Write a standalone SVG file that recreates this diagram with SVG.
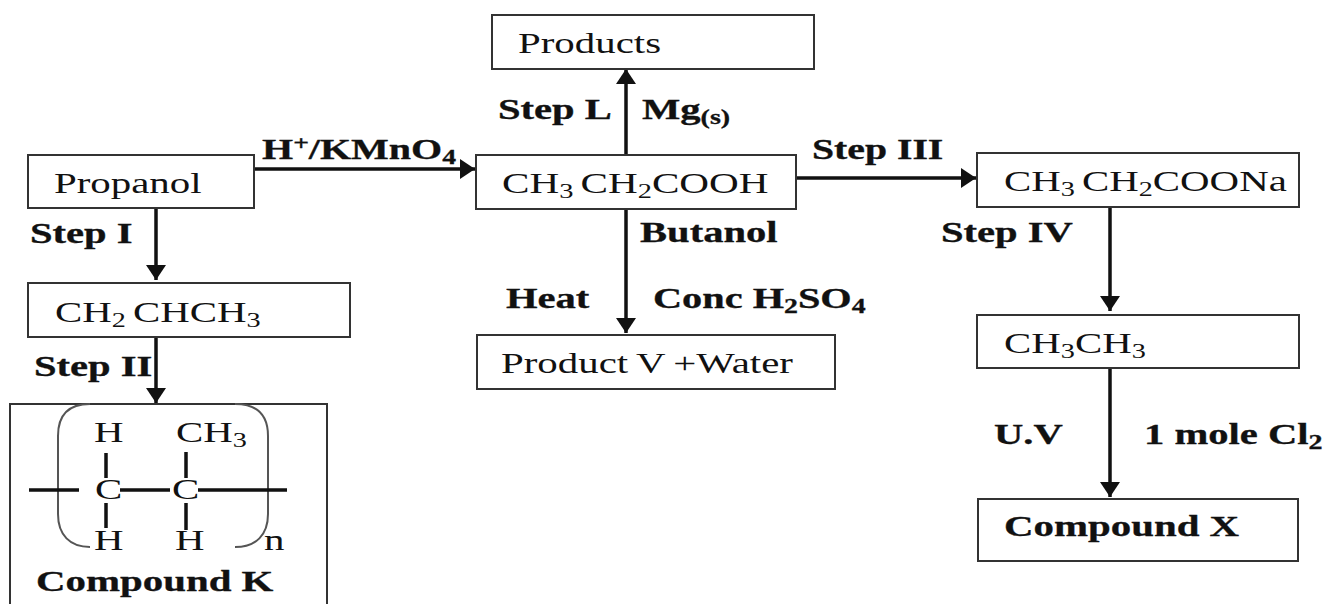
<svg xmlns="http://www.w3.org/2000/svg" width="1333" height="604" viewBox="0 0 1333 604">
<style>
text{font-family:"Liberation Serif",serif;font-size:29px;fill:#111}
.b{font-weight:bold;stroke:#111;stroke-width:.3}
.s{font-size:20px}
rect{fill:#fff;stroke:#333;stroke-width:2}
.c{stroke:#111;stroke-width:3.5;fill:none}
.l{stroke:#111;stroke-width:3.5;fill:none}
.p{stroke:#555;stroke-width:2;fill:none}
</style>
<defs><marker id="a" markerUnits="userSpaceOnUse" markerWidth="20" markerHeight="20" refX="15" refY="10" orient="auto"><path d="M0 0L15 10L0 20Z" fill="#111"/></marker></defs>
<rect width="1333" height="604" style="fill:#fff;stroke:none"/>
<g id="connectors">
<path class="c" marker-end="url(#a)" d="M254 169H475"/>
<path class="c" marker-end="url(#a)" d="M156 208V280"/>
<path class="c" marker-end="url(#a)" d="M156 337V403"/>
<path class="c" marker-end="url(#a)" d="M626 155V69"/>
<path class="c" marker-end="url(#a)" d="M626 209V333"/>
<path class="c" marker-end="url(#a)" d="M796 178H976"/>
<path class="c" marker-end="url(#a)" d="M1110 207V311"/>
<path class="c" marker-end="url(#a)" d="M1110 368V497"/>
</g>
<g id="propanol"><rect x="28" y="155" width="226" height="53"/><text transform="matrix(1.41 0 0 1 54 193)">Propanol</text></g>
<g id="propene"><rect x="28" y="283" width="322" height="54"/><text transform="matrix(1.41 0 0 1 55 322)">CH<tspan class="s" dy="5">2 </tspan><tspan dy="-5">CHCH</tspan><tspan class="s" dy="5">3</tspan></text></g>
<g id="compound-k"><rect x="10" y="404" width="317" height="210"/>
<path class="p" d="M90 404C68 404 58 416 58 436V514C58 535 70 547 90 547"/>
<path class="p" d="M235 404C258 404 268 416 268 436V514C268 535 256 547 235 547"/>
<path class="l" d="M29 490H79M120 490H170M198 490H287M106 453V478M106 503V528M186 452V478M186 503V530"/>
<text transform="matrix(1.41 0 0 1 94 442)">H</text><text transform="matrix(1.41 0 0 1 176 442)">CH<tspan class="s" dy="5">3</tspan></text>
<text transform="matrix(1.41 0 0 1 95 499)">C</text><text transform="matrix(1.41 0 0 1 172 499)">C</text>
<text transform="matrix(1.41 0 0 1 94 550)">H</text><text transform="matrix(1.41 0 0 1 175 550)">H</text><text transform="matrix(1.41 0 0 1 264 550)">n</text>
<text class="b" transform="matrix(1.41 0 0 1 36 591)">Compound K</text></g>
<g id="acid"><rect x="476" y="155" width="320" height="54"/><text transform="matrix(1.42 0 0 1 502 193)">CH<tspan class="s" dy="5">3 </tspan><tspan dy="-5">CH</tspan><tspan class="s" dy="5">2</tspan><tspan dy="-5">COOH</tspan></text></g>
<g id="products"><rect x="492" y="15" width="322" height="54"/><text transform="matrix(1.41 0 0 1 518 53)">Products</text></g>
<g id="product-v"><rect x="477" y="335" width="358" height="54"/><text transform="matrix(1.41 0 0 1 501 373)" style="word-spacing:-1.2px">Product V +Water</text></g>
<g id="salt"><rect x="977" y="153" width="322" height="54"/><text transform="matrix(1.41 0 0 1 1004 191)">CH<tspan class="s" dy="5">3 </tspan><tspan dy="-5">CH</tspan><tspan class="s" dy="5">2</tspan><tspan dy="-5">COONa</tspan></text></g>
<g id="ethane"><rect x="977" y="315" width="322" height="53"/><text transform="matrix(1.41 0 0 1 1004 353)">CH<tspan class="s" dy="5">3</tspan><tspan dy="-5">CH</tspan><tspan class="s" dy="5">3</tspan></text></g>
<g id="compound-x"><rect x="978" y="499" width="320" height="62"/><text class="b" transform="matrix(1.41 0 0 1 1004 536)">Compound X</text></g>
<g id="labels">
<text class="b" transform="matrix(1.38 0 0 1 262 159)">H<tspan class="s" dy="-9">+</tspan><tspan dy="9">/KMnO</tspan><tspan class="s" dy="5">4</tspan></text>
<text class="b" transform="matrix(1.4 0 0 1 30 243)">Step I</text>
<text class="b" transform="matrix(1.4 0 0 1 34 376)">Step II</text>
<text class="b" transform="matrix(1.4 0 0 1 498 119)">Step L</text>
<text class="b" transform="matrix(1.4 0 0 1 642 119)">Mg<tspan class="s" dy="5">(s)</tspan></text>
<text class="b" transform="matrix(1.37 0 0 1 812 159)">Step III</text>
<text class="b" transform="matrix(1.4 0 0 1 640 242)">Butanol</text>
<text class="b" transform="matrix(1.4 0 0 1 506 308)">Heat</text>
<text class="b" transform="matrix(1.39 0 0 1 653 308)">Conc H<tspan class="s" dy="5">2</tspan><tspan dy="-5">SO</tspan><tspan class="s" dy="5">4</tspan></text>
<text class="b" transform="matrix(1.4 0 0 1 941 242)">Step IV</text>
<text class="b" transform="matrix(1.4 0 0 1 994 444)">U.V</text>
<text class="b" transform="matrix(1.4 0 0 1 1144 444)">1 mole Cl<tspan class="s" dy="5">2</tspan></text>
</g>
</svg>
